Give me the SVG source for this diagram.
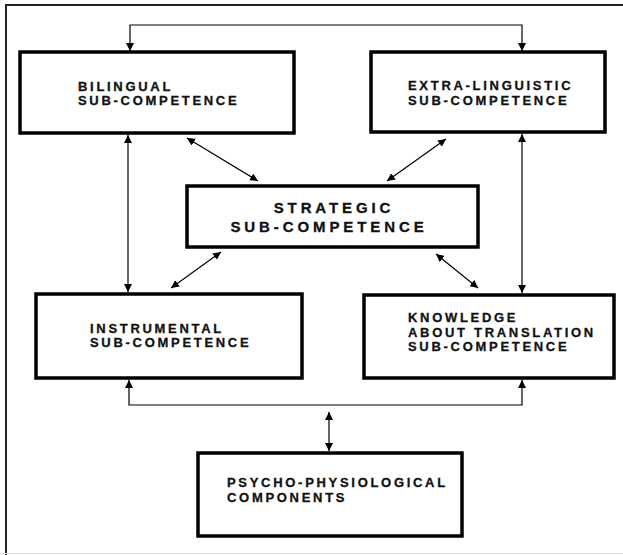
<svg xmlns="http://www.w3.org/2000/svg" width="623" height="555" viewBox="0 0 623 555">
<style>
.box{fill:#fff;stroke:#000;stroke-width:3.5}
.t{font-family:"Liberation Sans",Arial,sans-serif;font-weight:bold;font-size:13px;letter-spacing:2.7px;fill:#111;stroke:#111;stroke-width:0.3}
.ts{font-family:"Liberation Sans",Arial,sans-serif;font-weight:bold;font-size:15px;letter-spacing:3.9px;fill:#111;stroke:#111;stroke-width:0.3}
.c{fill:none;stroke:#000;stroke-width:1.2}
.frame{fill:none;stroke:#222;stroke-width:2}
</style>
<defs>
<marker id="ah" viewBox="0 0 10 10" refX="10" refY="5" markerWidth="8" markerHeight="8" markerUnits="userSpaceOnUse" orient="auto-start-reverse">
<path d="M0,0 L10,5 L0,10 z" fill="#000"/>
</marker>
</defs>
<rect width="623" height="555" fill="#fff"/>
<path class="frame" d="M6,555 V5 H623"/>
<line x1="0" y1="553.5" x2="623" y2="553.5" stroke="#ddd" stroke-width="1"/>
<g id="connectors">
<path class="c" d="M130,51 V25 H522 V51" marker-start="url(#ah)" marker-end="url(#ah)"/>
<line class="c" x1="128" y1="135" x2="128" y2="292" marker-start="url(#ah)" marker-end="url(#ah)"/>
<line class="c" x1="522" y1="134" x2="522" y2="293" marker-start="url(#ah)" marker-end="url(#ah)"/>
<path class="c" d="M129,380 V405 H522 V380" marker-start="url(#ah)" marker-end="url(#ah)"/>
<line class="c" x1="329" y1="412" x2="329" y2="451" marker-start="url(#ah)" marker-end="url(#ah)"/>
<line class="c" x1="187" y1="138" x2="258" y2="181" marker-start="url(#ah)" marker-end="url(#ah)"/>
<line class="c" x1="446" y1="139" x2="387" y2="181" marker-start="url(#ah)" marker-end="url(#ah)"/>
<line class="c" x1="221" y1="252" x2="171" y2="288" marker-start="url(#ah)" marker-end="url(#ah)"/>
<line class="c" x1="436" y1="254" x2="478" y2="288" marker-start="url(#ah)" marker-end="url(#ah)"/>
</g>
<g id="bilingual">
<rect class="box" x="20" y="52" width="274" height="81"/>
<text class="t" x="78" y="91">BILINGUAL</text>
<text class="t" x="78" y="105">SUB-COMPETENCE</text>
</g>
<g id="extralinguistic">
<rect class="box" x="371" y="52" width="234" height="80"/>
<text class="t" x="408" y="90">EXTRA-LINGUISTIC</text>
<text class="t" x="408" y="105">SUB-COMPETENCE</text>
</g>
<g id="strategic">
<rect class="box" x="187" y="186" width="291" height="61"/>
<text class="ts" x="334" y="213" text-anchor="middle">STRATEGIC</text>
<text class="ts" x="329" y="232" text-anchor="middle">SUB-COMPETENCE</text>
</g>
<g id="instrumental">
<rect class="box" x="36" y="294" width="266" height="84"/>
<text class="t" x="90" y="333">INSTRUMENTAL</text>
<text class="t" x="90" y="347">SUB-COMPETENCE</text>
</g>
<g id="knowledge">
<rect class="box" x="364" y="295" width="250" height="83"/>
<text class="t" x="408" y="322">KNOWLEDGE</text>
<text class="t" x="408" y="337">ABOUT TRANSLATION</text>
<text class="t" x="408" y="351">SUB-COMPETENCE</text>
</g>
<g id="psycho">
<rect class="box" x="198" y="453" width="264" height="83"/>
<text class="t" x="227" y="487">PSYCHO-PHYSIOLOGICAL</text>
<text class="t" x="227" y="502">COMPONENTS</text>
</g>
</svg>
